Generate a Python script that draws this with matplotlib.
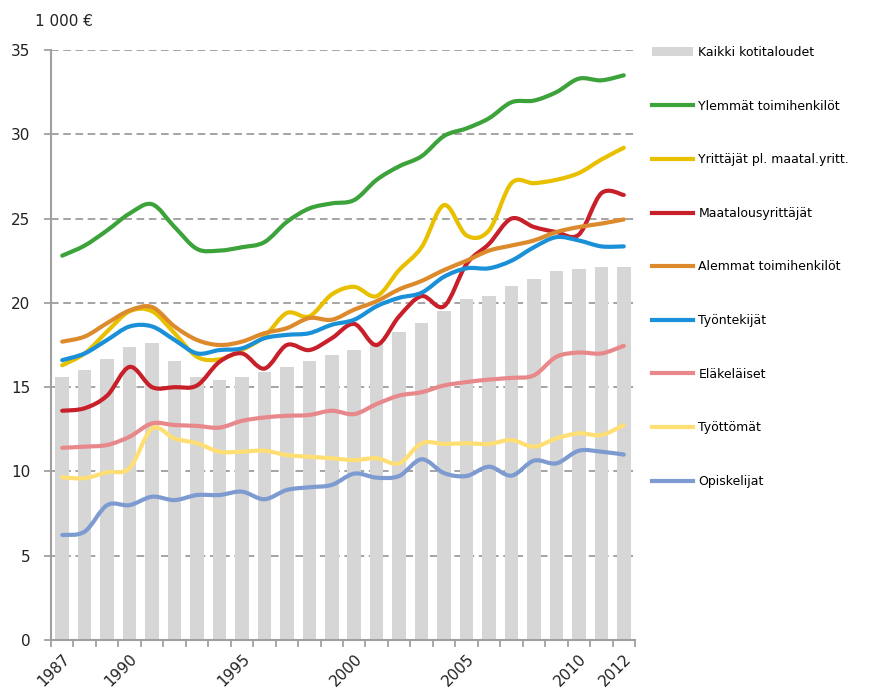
import numpy as np
import matplotlib
matplotlib.use("Agg")
import matplotlib.pyplot as plt
from matplotlib.path import Path
from matplotlib.patches import PathPatch, Patch
from matplotlib.lines import Line2D

plt.rcParams['font.family'] = ['DejaVu Sans']

years = list(range(1987, 2013))
labeled_years = [1987, 1990, 1995, 2000, 2005, 2010, 2012]

kaikki = [15.6, 16.0, 16.65, 17.4, 17.6, 16.55, 15.6, 15.4, 15.6, 15.9, 16.2, 16.55, 16.9, 17.2,
          17.6, 18.25, 18.8, 19.5, 20.2, 20.4, 21.0, 21.4, 21.9, 22.0, 22.1, 22.1]

ylemmat = [22.8, 23.4, 24.3, 25.3, 25.85, 24.5, 23.2, 23.1, 23.3, 23.6, 24.8, 25.6, 25.9, 26.1,
           27.3, 28.1, 28.7, 29.9, 30.35, 30.95, 31.9, 32.0, 32.5, 33.3, 33.2, 33.5]
yrittajat = [16.3, 17.0, 18.3, 19.5, 19.5, 18.2, 16.8, 16.65, 17.2, 18.0, 19.4, 19.2, 20.5, 20.95,
             20.4, 21.95, 23.3, 25.8, 24.0, 24.3, 27.1, 27.1, 27.3, 27.7, 28.5, 29.2]
maatalous = [13.6, 13.75, 14.5, 16.2, 15.0, 15.0, 15.1, 16.5, 17.0, 16.1, 17.5, 17.2, 17.9, 18.75,
             17.5, 19.2, 20.4, 19.8, 22.3, 23.5, 25.0, 24.5, 24.2, 24.05, 26.5, 26.4]
alemmat = [17.7, 18.0, 18.8, 19.55, 19.75, 18.6, 17.8, 17.5, 17.7, 18.2, 18.5, 19.1, 19.0, 19.6,
           20.1, 20.8, 21.3, 21.95, 22.5, 23.1, 23.4, 23.7, 24.2, 24.5, 24.7, 24.95]
tyontekijat = [16.6, 17.0, 17.8, 18.6, 18.6, 17.8, 17.0, 17.2, 17.3, 17.9, 18.1, 18.2, 18.7, 19.0,
               19.8, 20.3, 20.6, 21.55, 22.05, 22.05, 22.5, 23.3, 23.9, 23.7, 23.35, 23.35]
elakelaiset = [11.4, 11.47, 11.57, 12.06, 12.85, 12.75, 12.7, 12.6, 13.0, 13.2, 13.3, 13.35, 13.6, 13.4,
               14.0, 14.5, 14.7, 15.1, 15.3, 15.45, 15.55, 15.7, 16.8, 17.05, 17.0, 17.45]
tyottomat = [9.65, 9.6, 9.95, 10.2, 12.55, 11.95, 11.67, 11.17, 11.17, 11.23, 10.97, 10.87, 10.78, 10.67,
             10.78, 10.48, 11.67, 11.63, 11.67, 11.63, 11.86, 11.47, 11.96, 12.26, 12.16, 12.75]
opiskelijat = [6.23, 6.43, 8.0, 8.0, 8.5, 8.3, 8.6, 8.6, 8.8, 8.35, 8.9, 9.06, 9.2, 9.87,
               9.63, 9.73, 10.72, 9.9, 9.73, 10.28, 9.75, 10.64, 10.48, 11.23, 11.17, 11.0]

series_names = ["Ylemmät toimihenkilöt", "Yrittäjät pl. maatal.yritt.", "Maatalousyrittäjät",
                "Alemmat toimihenkilöt", "Työntekijät", "Eläkeläiset", "Työttömät", "Opiskelijat"]
series_values = [ylemmat, yrittajat, maatalous, alemmat, tyontekijat, elakelaiset, tyottomat, opiskelijat]
series_colors = ["#3ca23a", "#e8c000", "#c8202a", "#dc8a2c", "#1a90d8", "#e8888a", "#ffdf73", "#7d9bd0"]
bar_label = "Kaikki kotitaloudet"
unit_label = "1 000 €"

fig = plt.figure(figsize=(8.72, 6.91), dpi=100)
ax = fig.add_axes([51 / 872, 1 - 640 / 691, (635 - 51) / 872, (640 - 50) / 691])

x = np.arange(len(years))
ax.bar(x, kaikki, width=0.6, color="#d6d6d6", zorder=2, label=bar_label)


def smooth_path(xs, ys):
    pts = np.column_stack([xs, ys]).astype(float)
    n = len(pts)
    verts = [pts[0]]
    codes = [Path.MOVETO]
    for i in range(n - 1):
        p0 = pts[i - 1] if i > 0 else pts[i]
        p1 = pts[i]
        p2 = pts[i + 1]
        p3 = pts[i + 2] if i + 2 < n else pts[i + 1]
        c1 = p1 + (p2 - p0) / 6.0
        c2 = p2 - (p3 - p1) / 6.0
        verts += [c1, c2, p2]
        codes += [Path.CURVE4] * 3
    return Path(verts, codes)


handles = [Patch(facecolor="#d6d6d6", edgecolor="none", label=bar_label)]
for name, vals, col in zip(series_names, series_values, series_colors):
    path = smooth_path(x, vals)
    patch = PathPatch(path, facecolor="none", edgecolor=col, lw=3.0, zorder=3,
                      capstyle="round", joinstyle="round")
    ax.add_patch(patch)
    handles.append(Line2D([0], [0], color=col, lw=3.0, label=name))

ax.set_xlim(-0.5, len(years) - 0.5)
ax.set_ylim(0, 35)

ax.set_yticks(np.arange(0, 36, 5))
ax.tick_params(axis="y", labelsize=11, length=5, color="#999999", width=1.2, pad=10, labelcolor="#222222")
ax.yaxis.grid(True, linestyle=(0, (5, 3)), color="#8c8c8c", linewidth=1.1, zorder=0)
ax.set_axisbelow(True)

ax.set_xticks(np.arange(-0.5, len(years), 1.0))
ax.set_xticklabels([])
ax.tick_params(axis="x", which="major", length=5, color="#999999", width=1.2)
lab_pos = [years.index(y) for y in labeled_years]
ax.set_xticks(lab_pos, minor=True)
ax.set_xticklabels([str(y) for y in labeled_years], minor=True, rotation=45, ha="right",
                   rotation_mode="anchor", fontsize=11, color="#222222")
ax.tick_params(axis="x", which="minor", length=0, pad=8)

for s in ["top", "right"]:
    ax.spines[s].set_visible(False)
for s in ["left", "bottom"]:
    ax.spines[s].set_color("#a0a0a0")
    ax.spines[s].set_linewidth(1.5)

fig.text(35 / 872, 1 - 22 / 691, unit_label, fontsize=11, va="center", ha="left", color="#222222")

leg = fig.legend(handles=handles, loc="upper left", bbox_to_anchor=(652 / 872, 1 - 46 / 691),
                 frameon=False, fontsize=9, handlelength=3.3, handletextpad=0.4,
                 labelspacing=3.25, borderaxespad=0, borderpad=0)

fig.savefig("out.png", dpi=100)
